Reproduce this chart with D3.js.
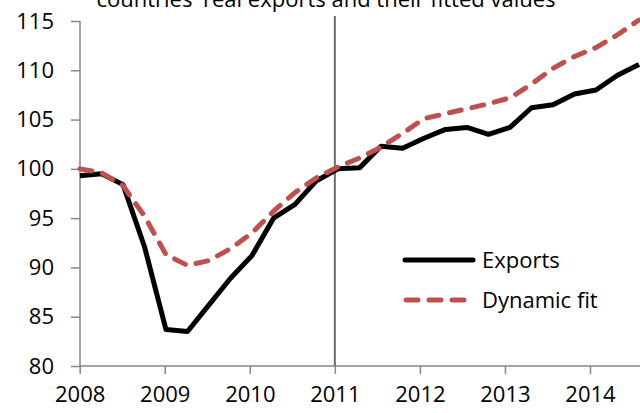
<!DOCTYPE html>
<html><head><meta charset="utf-8">
<script src="https://cdn.jsdelivr.net/npm/d3@7"></script>
<style>body{margin:0;background:#fff}svg{display:block}</style>
</head><body>
<svg id="c" width="640" height="413"></svg>
<script>
const quarters = ["2008Q1","2008Q2","2008Q3","2008Q4","2009Q1","2009Q2","2009Q3","2009Q4",
  "2010Q1","2010Q2","2010Q3","2010Q4","2011Q1","2011Q2","2011Q3","2011Q4",
  "2012Q1","2012Q2","2012Q3","2012Q4","2013Q1","2013Q2","2013Q3","2013Q4",
  "2014Q1","2014Q2","2014Q3"];
const exportsVals = [99.3,99.5,98.4,92.1,83.7,83.5,86.2,88.9,91.2,95.0,96.4,98.8,
  100.0,100.1,102.3,102.1,103.1,104.0,104.2,103.5,104.2,106.2,106.5,107.6,108.0,109.5,110.6];
const fitVals = [100.0,99.6,98.3,95.2,91.3,90.2,90.7,91.9,93.5,95.7,97.6,99.1,
  100.2,101.1,102.2,103.6,105.1,105.6,106.1,106.6,107.2,108.6,110.2,111.4,112.3,113.6,115.1];
const yearTicks = [2008,2009,2010,2011,2012,2013,2014];
const yTicks = [80,85,90,95,100,105,110,115];
const markerYear = 2011;
const titleText = "countries' real exports and their fitted values";
const seriesNames = ["Exports","Dynamic fit"];

const svg = d3.select("#c");
const font = "'Open Sans', sans-serif";
const axisCol = "#868686";

const x = d3.scalePoint().domain(quarters).range([80, 639]);
const xYear = d3.scaleLinear().domain([2008, 2014]).range([79.7, 590]);
const y = d3.scaleLinear().domain([80, 115]).range([366, 21]);

// title (cut off at top)
svg.append("text").attr("x", 326).attr("y", 7).attr("text-anchor", "middle")
  .attr("font-family", font).attr("font-size", 22).attr("fill", "#000").text(titleText);

// y axis
const yAxis = svg.append("g").attr("transform", "translate(80,0)")
  .call(d3.axisLeft(y).tickValues(yTicks).tickSize(9).tickPadding(17).tickFormat(d3.format("d")));
yAxis.select(".domain").attr("stroke", axisCol).attr("stroke-width", 1.5).attr("d", "M0," + y(115) + "V" + y(80));
yAxis.selectAll(".tick line").attr("stroke", axisCol).attr("stroke-width", 1.5);
yAxis.selectAll(".tick text").attr("font-family", font).attr("font-size", 22).attr("fill", "#000");

// x axis
const xAxis = svg.append("g").attr("transform", "translate(0,366)")
  .call(d3.axisBottom(xYear).tickValues(yearTicks).tickSize(8).tickPadding(12).tickFormat(d3.format("d")));
xAxis.select(".domain").attr("stroke", axisCol).attr("stroke-width", 1.5).attr("d", "M80,0H640");
xAxis.selectAll(".tick line").attr("stroke", axisCol).attr("stroke-width", 1.5);
xAxis.selectAll(".tick text").attr("font-family", font).attr("font-size", 22).attr("fill", "#000");

// vertical marker line
svg.append("line").attr("x1", xYear(markerYear)).attr("x2", xYear(markerYear))
  .attr("y1", 16).attr("y2", 366).attr("stroke", "#6d6d6d").attr("stroke-width", 2);

const line = d3.line().x((d, i) => x(quarters[i])).y(d => y(d));

svg.append("path").datum(exportsVals).attr("d", line).attr("fill", "none")
  .attr("stroke", "#000").attr("stroke-width", 5).attr("stroke-linejoin", "round");
svg.append("path").datum(fitVals).attr("d", line).attr("fill", "none")
  .attr("stroke", "#C0504D").attr("stroke-width", 5).attr("stroke-dasharray", "12,11")
  .attr("stroke-linecap", "round").attr("stroke-linejoin", "round");

// legend
const leg = svg.append("g");
leg.append("line").attr("x1", 405).attr("x2", 473).attr("y1", 260).attr("y2", 260)
  .attr("stroke", "#000").attr("stroke-width", 5).attr("stroke-linecap", "round");
leg.append("line").attr("x1", 406).attr("x2", 470).attr("y1", 300).attr("y2", 300)
  .attr("stroke", "#C0504D").attr("stroke-width", 5).attr("stroke-dasharray", "12,11").attr("stroke-linecap", "round");
leg.append("text").attr("x", 482).attr("y", 268).attr("font-family", font).attr("font-size", 22).text(seriesNames[0]);
leg.append("text").attr("x", 482).attr("y", 308).attr("font-family", font).attr("font-size", 22).text(seriesNames[1]);
</script>
</body></html>
